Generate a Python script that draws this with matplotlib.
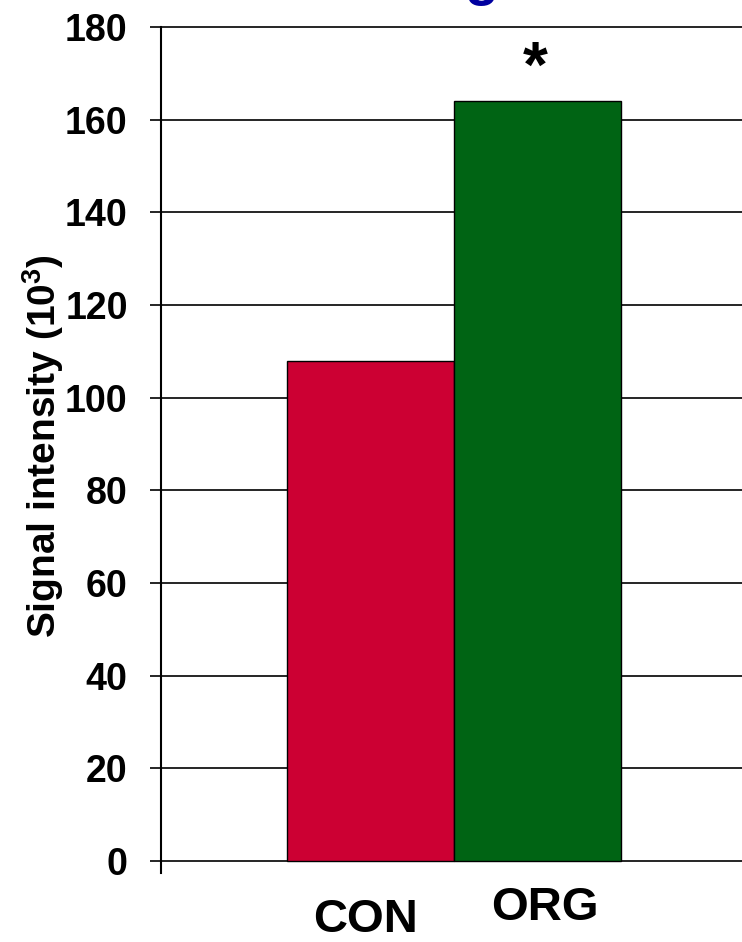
import matplotlib
matplotlib.use("Agg")
import matplotlib.pyplot as plt
from matplotlib.transforms import ScaledTranslation

categories = ["CON", "ORG"]
values = [108, 164]
bar_colors = ["#CC0033", "#006414"]
yticks = [0, 20, 40, 60, 80, 100, 120, 140, 160, 180]
ylabel = "Signal intensity (10$^{\\mathbf{3}}$)"
sig_marker = "*"

plt.rcParams['font.family'] = ['Liberation Sans', 'DejaVu Sans']
plt.rcParams['font.weight'] = 'bold'
plt.rcParams['mathtext.fontset'] = 'custom'
plt.rcParams['mathtext.bf'] = 'Liberation Sans:bold'
plt.rcParams['mathtext.rm'] = 'Liberation Sans:bold'

fig = plt.figure(figsize=(7.42, 9.42), dpi=100)
ax = fig.add_axes([161/742, 1 - 873/942, 1 - 161/742, (873 - 27)/942])

x = list(range(len(categories)))
ax.bar(x, values, width=1.0, color=bar_colors, edgecolor='black', linewidth=1.0, zorder=3)

ax.set_ylim(-2.6, 180)
ax.set_xlim(-1.257, 2.222)
ax.set_yticks(yticks)
ax.set_yticklabels([str(t) for t in yticks], fontsize=27, fontweight='bold')
ax.tick_params(axis='y', direction='out', length=8, width=1.2, pad=16)
ax.set_xticks([])
for yv in yticks:
    ax.axhline(yv, color='black', linewidth=1.2, zorder=1, clip_on=False)

for s in ['top', 'right', 'bottom']:
    ax.spines[s].set_visible(False)
ax.spines['left'].set_linewidth(1.5)

ax.set_ylabel(ylabel, fontsize=28, fontweight='bold')
ax.yaxis.set_label_coords(-(161 - 66) / 581, (873 - 446) / 846)

# category labels (staggered), offsets in pixels from the bar centre at y=0
label_offsets = [(-5, -(920 - 861)), (7, -(908 - 861))]
for xi, cat, (dx, dy) in zip(x, categories, label_offsets):
    ax.text(xi, 0, cat, ha='center', va='center', fontsize=34, fontweight='bold',
            transform=ax.transData + ScaledTranslation(dx / 100, dy / 100, fig.dpi_scale_trans))

ax.text(x[1], values[1], sig_marker, ha='center', va='center', fontsize=46, fontweight='bold',
        transform=ax.transData + ScaledTranslation(-3 / 100, 31 / 100, fig.dpi_scale_trans))

fig.text(482 / 742, 1 + 5.7 / 942, "g", color='#0000A0', fontsize=40, fontweight='bold',
         ha='center', va='baseline')

fig.savefig("out.png", dpi=100)
